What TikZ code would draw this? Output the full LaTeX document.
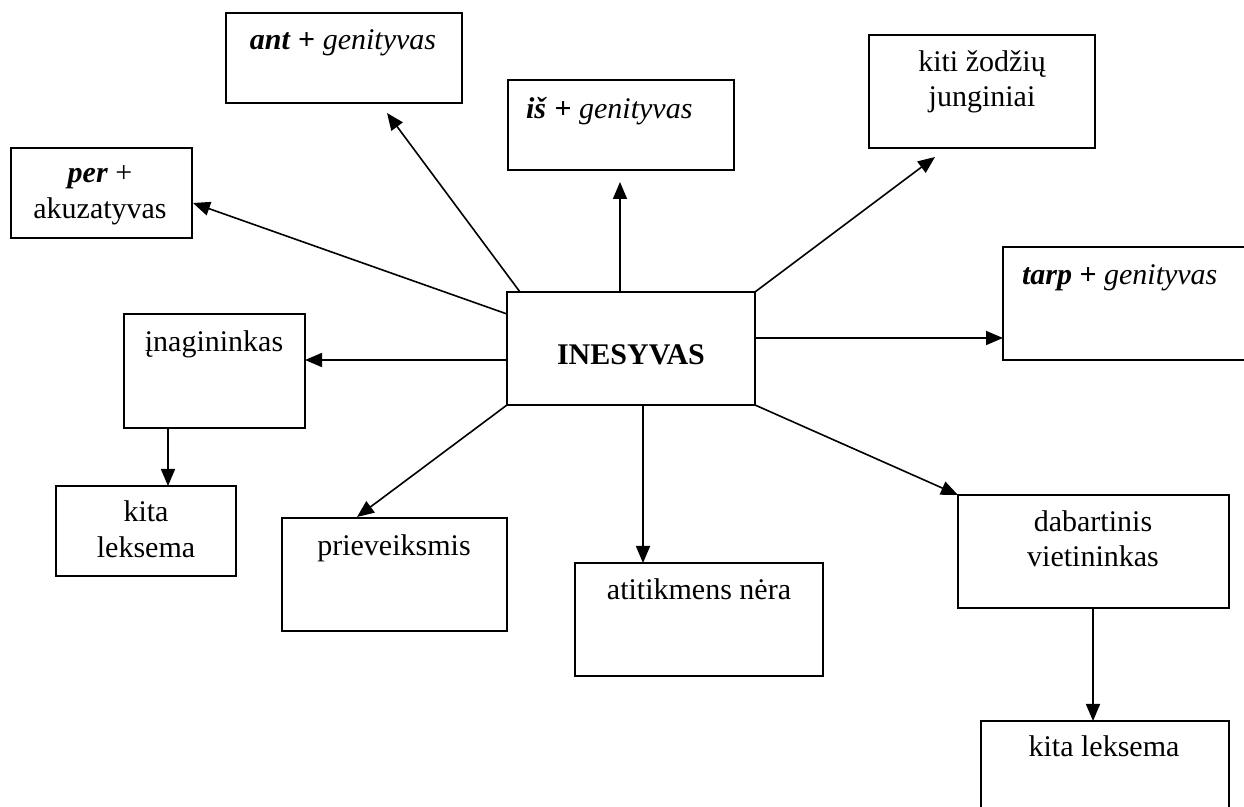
\documentclass[tikz,border=0pt]{standalone}
\usepackage{fontspec}
\setmainfont{Liberation Serif}
\usetikzlibrary{arrows.meta,calc}
\begin{document}
\begin{tikzpicture}[x=0.5pt,y=-0.5pt,
  box/.style={draw=black,line width=0.9pt,rectangle,inner sep=0pt,outer sep=0pt,anchor=north west},
  txt/.style={inner sep=0pt,outer sep=0pt,font=\fontsize{15pt}{17pt}\selectfont},
  arr/.style={draw=black,line width=0.8pt,-{Triangle[length=8.5pt,width=7pt]}}]
\useasboundingbox (0,0) rectangle (1244,807);
% boxes (pixel coordinates: x right, y down)
\node[box,minimum width=236pt/2,minimum height=90pt/2] (ant) at (226,13) {};
\node[box,minimum width=226pt/2,minimum height=90pt/2] (is) at (508,80) {};
\node[box,minimum width=226pt/2,minimum height=113pt/2] (kiti) at (869,35) {};
\node[box,minimum width=181pt/2,minimum height=90pt/2] (per) at (11,148) {};
\node[box,minimum width=260pt/2,minimum height=113pt/2] (tarp) at (1003,247) {};
\node[box,minimum width=248pt/2,minimum height=113pt/2] (ines) at (507,292) {};
\node[box,minimum width=181pt/2,minimum height=114pt/2] (inag) at (124,314) {};
\node[box,minimum width=180pt/2,minimum height=90pt/2] (kitaA) at (56,486) {};
\node[box,minimum width=225pt/2,minimum height=113pt/2] (priev) at (282,518) {};
\node[box,minimum width=248pt/2,minimum height=113pt/2] (atit) at (575,563) {};
\node[box,minimum width=271pt/2,minimum height=113pt/2] (dab) at (958,495) {};
\node[box,minimum width=248pt/2,minimum height=110pt/2] (kitaB) at (981,721) {};
% texts
\node[txt,anchor=base] (tant) at (343,50) {\textbf{\textit{ant}} \textbf{+} \textit{genityvas}};
\node[txt,anchor=base west] (tis) at (526,119) {\textbf{\textit{iš}} \textbf{+} \textit{genityvas}};
\node[txt,anchor=base] (tkiti1) at (982,72) {kiti žodžių};
\node[txt,anchor=base] (tkiti2) at (982,107) {junginiai};
\node[txt,anchor=base] (tper1) at (100,183) {\textbf{\textit{per}} +};
\node[txt,anchor=base] (tper2) at (100,219) {akuzatyvas};
\node[txt,anchor=base west] (ttarp) at (1022,285) {\textbf{\textit{tarp}} \textbf{+} \textit{genityvas}};
\node[txt,anchor=base] (tines) at (631,365) {\textbf{INESYVAS}};
\node[txt,anchor=base] (tinag) at (214,352) {įnagininkas};
\node[txt,anchor=base] (tkitaA1) at (146,522) {kita};
\node[txt,anchor=base] (tkitaA2) at (146,558) {leksema};
\node[txt,anchor=base] (tpriev) at (394,556) {prieveiksmis};
\node[txt,anchor=base] (tatit) at (699,600) {atitikmens nėra};
\node[txt,anchor=base] (tdab1) at (1093,532) {dabartinis};
\node[txt,anchor=base] (tdab2) at (1093,567) {vietininkas};
\node[txt,anchor=base] (tkitaB) at (1104,757) {kita leksema};
% connectors
\draw[arr] ($(ines.north west)+(13,0)$) -- ($(ant.south west)+(161,10)$);
\draw[arr] ($(ines.north west)+(113,0)$) -- ($(is.south west)+(112,12)$);
\draw[arr] (ines.north east) -- ($(kiti.south west)+(66,9)$);
\draw[arr] ($(ines.north east)+(0,46)$) -- ($(tarp.north west)+(0,91)$);
\draw[arr] ($(ines.north west)+(0,22)$) -- ($(per.north east)+(1,55)$);
\draw[arr] ($(ines.north west)+(0,68)$) -- ($(inag.north east)+(0,46)$);
\draw[arr] ($(inag.south west)+(44,0)$) -- ($(kitaA.north west)+(112,0)$);
\draw[arr] (ines.south west) -- ($(priev.north west)+(75,-1)$);
\draw[arr] ($(ines.south west)+(136,0)$) -- ($(atit.north west)+(68,0)$);
\draw[arr] (ines.south east) -- (dab.north west);
\draw[arr] ($(dab.south west)+(135,0)$) -- ($(kitaB.north west)+(112,0)$);
\end{tikzpicture}
\end{document}
